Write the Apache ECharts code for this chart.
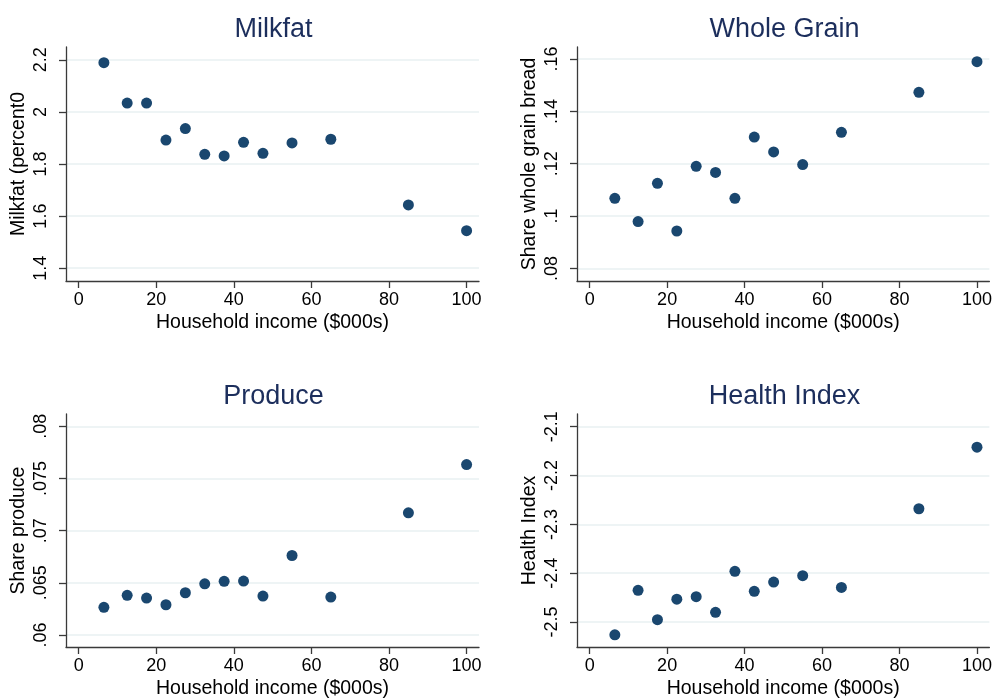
<!DOCTYPE html>
<html>
<head>
<meta charset="utf-8">
<script src="https://cdn.jsdelivr.net/npm/echarts@6/dist/echarts.min.js"></script>
<style>
  html, body { margin: 0; padding: 0; background: #fff; }
  #chart { width: 995px; height: 700px; }
</style>
</head>
<body>
<div id="chart"></div>
<script>
// Household income bins ($000s) shared by all four panels
const income = [6.5, 12.5, 17.5, 22.5, 27.5, 32.5, 37.5, 42.5, 47.5, 55, 65, 85, 100];

// Outcome means per income bin
const milkfat    = [2.189, 2.034, 2.034, 1.892, 1.936, 1.837, 1.831, 1.883, 1.841, 1.881, 1.895, 1.643, 1.544];
const wholeGrain = [0.1068, 0.0979, 0.1125, 0.0943, 0.1190, 0.1167, 0.1068, 0.1302, 0.1245, 0.1197, 0.1320, 0.1473, 0.1590];
const produce    = [0.06265, 0.0638, 0.06354, 0.0629, 0.06405, 0.06491, 0.06514, 0.06517, 0.06373, 0.06762, 0.06364, 0.07171, 0.07633];
const health     = [-2.526, -2.435, -2.495, -2.453, -2.448, -2.480, -2.396, -2.437, -2.418, -2.405, -2.429, -2.268, -2.142];

// Tick labels
const incomeTicks     = [0, 20, 40, 60, 80, 100];
const milkfatTicks    = [1.4, 1.6, 1.8, 2, 2.2];
const wholeGrainTicks = [0.08, 0.1, 0.12, 0.14, 0.16];
const produceTicks    = [0.06, 0.065, 0.07, 0.075, 0.08];
const healthTicks     = [-2.5, -2.4, -2.3, -2.2, -2.1];

const FONT = '"Liberation Sans", Arial, Helvetica, sans-serif';
const MARKER = '#1a476f';
const TITLE_COLOR = '#1c2e5c';
const AXIS_COLOR = '#3a3a3a';
const GRID_COLOR = '#e8f0f2';

// Number style without a leading zero: .08, -2.1, 2
function fmt(v) {
  const s = String(+Number(v).toFixed(5));
  return s.replace(/^0\./, '.').replace(/^-0\./, '-.');
}

const panels = [
  { title: 'Milkfat',     yName: 'Milkfat (percent0',        values: milkfat,    ticks: milkfatTicks,    yMin: 1.351,  yMax: 2.249,  left: 66,  top: 47 },
  { title: 'Whole Grain', yName: 'Share whole grain bread', values: wholeGrain, ticks: wholeGrainTicks, yMin: 0.0752, yMax: 0.1646, left: 577, top: 47 },
  { title: 'Produce',     yName: 'Share produce',           values: produce,    ticks: produceTicks,    yMin: 0.05885, yMax: 0.08118, left: 66,  top: 414 },
  { title: 'Health Index',yName: 'Health Index',            values: health,     ticks: healthTicks,     yMin: -2.551, yMax: -2.074, left: 577, top: 414 }
];

const W = 413, H = 234;

const option = {
  animation: false,
  backgroundColor: '#ffffff',
  title: panels.map(p => ({
    text: p.title,
    left: p.left + W / 2 - 4,
    top: p.top - 36,
    textAlign: 'center',
    textStyle: { fontFamily: FONT, fontSize: 27, fontWeight: 'normal', color: TITLE_COLOR }
  })),
  grid: panels.map(p => ({ left: p.left, top: p.top, width: W, height: H, containLabel: false })),
  xAxis: panels.map((p, i) => ({
    type: 'value',
    gridIndex: i,
    min: -3.27,
    max: 103.2,
    name: 'Household income ($000s)',
    nameLocation: 'middle',
    nameGap: 32,
    nameTextStyle: { fontFamily: FONT, fontSize: 19.5, color: '#000' },
    axisLine: { show: true, onZero: false, lineStyle: { color: AXIS_COLOR, width: 1.3 } },
    axisTick: { show: true, inside: false, length: 7, customValues: incomeTicks, lineStyle: { color: AXIS_COLOR, width: 1.3 } },
    axisLabel: { customValues: incomeTicks, formatter: fmt, margin: 10, fontFamily: FONT, fontSize: 18, color: '#000', showMinLabel: true, showMaxLabel: true },
    splitLine: { show: false }
  })),
  yAxis: panels.map((p, i) => ({
    type: 'value',
    gridIndex: i,
    min: p.yMin,
    max: p.yMax,
    name: p.yName,
    nameLocation: 'middle',
    nameRotate: 90,
    nameGap: 37,
    nameTextStyle: { fontFamily: FONT, fontSize: 19.5, color: '#000' },
    axisLine: { show: true, onZero: false, lineStyle: { color: AXIS_COLOR, width: 1.3 } },
    axisTick: { show: true, inside: false, length: 7, customValues: p.ticks, lineStyle: { color: AXIS_COLOR, width: 1.3 } },
    axisLabel: { customValues: p.ticks, formatter: fmt, rotate: 90, margin: 16, fontFamily: FONT, fontSize: 18, color: '#000', showMinLabel: true, showMaxLabel: true },
    splitLine: { show: true, lineStyle: { color: GRID_COLOR, width: 1.5 } }
  })),
  series: panels.map((p, i) => ({
    type: 'scatter',
    xAxisIndex: i,
    yAxisIndex: i,
    symbol: 'circle',
    symbolSize: 11,
    itemStyle: { color: MARKER, opacity: 1 },
    data: income.map((x, k) => [x, p.values[k]])
  }))
};

const chart = echarts.init(document.getElementById('chart'), null, { renderer: 'canvas' });
chart.setOption(option);
</script>
</body>
</html>
